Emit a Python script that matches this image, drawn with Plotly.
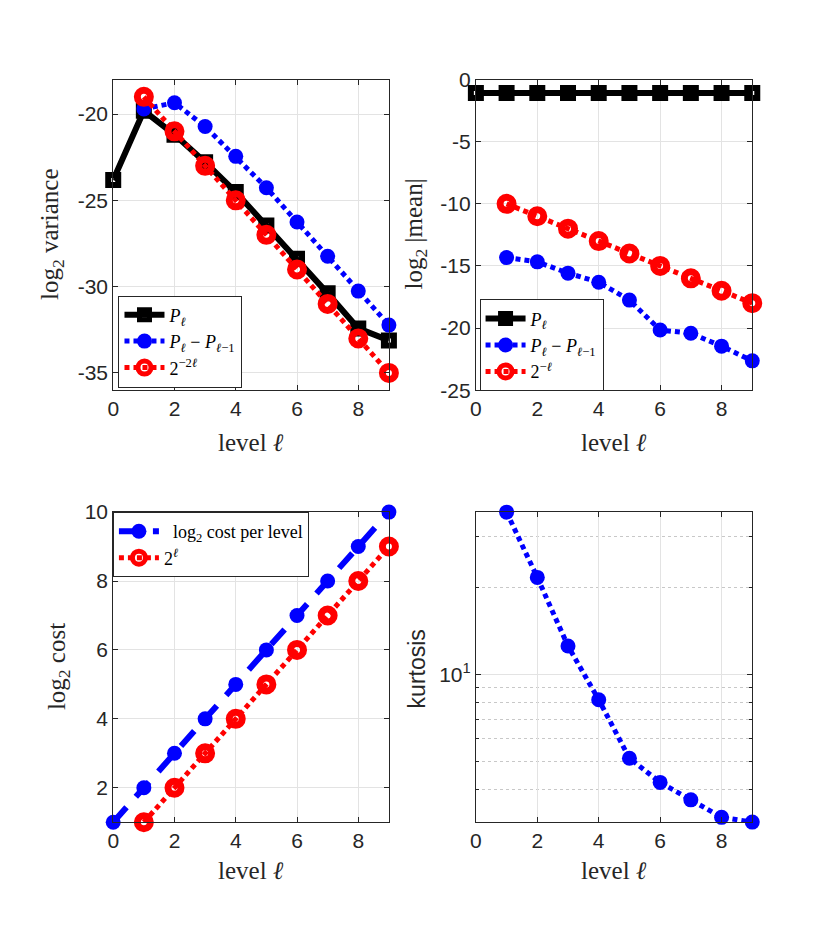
import plotly.graph_objects as go

# ---------------- data ----------------
levels = [0, 1, 2, 3, 4, 5, 6, 7, 8, 9]
levels1 = [1, 2, 3, 4, 5, 6, 7, 8, 9]

var_P = [-23.82, -19.81, -21.19, -22.79, -24.52, -26.46, -28.38, -30.39, -32.42, -33.12]
var_dP = [-19.70, -19.34, -20.72, -22.45, -24.27, -26.25, -28.24, -30.26, -32.23]
var_ref = [-19, -21, -23, -25, -27, -29, -31, -33, -35]

mean_P = [-1.07, -1.07, -1.07, -1.07, -1.07, -1.07, -1.07, -1.07, -1.07, -1.07]
mean_dP = [-14.33, -14.67, -15.58, -16.31, -17.75, -20.16, -20.42, -21.46, -22.64]
mean_ref = [-10, -11, -12, -13, -14, -15, -16, -17, -18]

cost = [1, 2, 3, 4, 5, 6, 7, 8, 9, 10]
cost_ref = [1, 2, 3, 4, 5, 6, 7, 8, 9]

kurt = [36.5, 21.7, 12.56, 8.19, 5.14, 4.24, 3.69, 3.21, 3.09]

x_ticks = [0, 2, 4, 6, 8]
var_ticks = [-35, -30, -25, -20]
mean_ticks = [-25, -20, -15, -10, -5, 0]
cost_ticks = [2, 4, 6, 8, 10]
kurt_minor = [4, 5, 6, 7, 8, 9, 20, 30]

# ---------------- style ----------------
W, H = 830, 934
AX = '#262626'
GRID = '#e3e3e3'
SANS = 'Liberation Sans, Arial, sans-serif'
SERIF = 'Liberation Serif, Times New Roman, serif'
BLACK, BLUE, RED = '#000000', '#0000ff', '#ff0000'
TICKSIZE = 21

def px_x(p):
    return p / W

def px_y(p):
    return 1 - p / H

dom_xL = [px_x(108), px_x(385.7)]
dom_xR = [px_x(473.3), px_x(751.7)]
dom_yT = [px_y(387.7), px_y(69.3)]
dom_yB = [px_y(830.7), px_y(512.7)]

fig = go.Figure()

def sq_black(x, y, name, xa, ya, leg, show=True):
    return go.Scatter(x=x, y=y, name=name, mode='lines+markers', xaxis=xa, yaxis=ya,
                      legend=leg, showlegend=show, cliponaxis=False,
                      line=dict(color=BLACK, width=6),
                      marker=dict(symbol='square-open', size=10, color=BLACK,
                                  line=dict(color=BLACK, width=6)))

def blue_dots(x, y, name, xa, ya, leg, show=True):
    return go.Scatter(x=x, y=y, name=name, mode='lines+markers', xaxis=xa, yaxis=ya,
                      legend=leg, showlegend=show, cliponaxis=False,
                      line=dict(color=BLUE, width=5, dash='5px,4px'),
                      marker=dict(symbol='circle', size=15, color=BLUE,
                                  line=dict(color=BLUE, width=0)))

def red_rings(x, y, name, xa, ya, leg, show=True):
    return go.Scatter(x=x, y=y, name=name, mode='lines+markers', xaxis=xa, yaxis=ya,
                      legend=leg, showlegend=show, cliponaxis=False,
                      line=dict(color=RED, width=5, dash='5px,4px'),
                      marker=dict(symbol='circle-open', size=13, color=RED,
                                  line=dict(color=RED, width=7)))

SP = '\u2005'
P_name = '<i>P</i><sub><i>ℓ</i></sub>'
dP_name = '<i>P</i><sub><i>ℓ</i></sub>' + SP + '−' + SP + '<i>P</i><sub><i>ℓ</i>−1</sub>'

# top-left
fig.add_trace(sq_black(levels, var_P, P_name, 'x', 'y', 'legend'))
fig.add_trace(blue_dots(levels1, var_dP, dP_name, 'x', 'y', 'legend'))
fig.add_trace(red_rings(levels1, var_ref, '2<sup>−2<i>ℓ</i></sup>', 'x', 'y', 'legend'))

# top-right
fig.add_trace(sq_black(levels, mean_P, P_name, 'x2', 'y2', 'legend2'))
fig.add_trace(blue_dots(levels1, mean_dP, dP_name, 'x2', 'y2', 'legend2'))
fig.add_trace(red_rings(levels1, mean_ref, '2<sup>−<i>ℓ</i></sup>', 'x2', 'y2', 'legend2'))

# bottom-left
fig.add_trace(go.Scatter(x=levels, y=cost, name='  log<sub>2</sub> cost per level',
                         mode='lines+markers', xaxis='x3', yaxis='y3', legend='legend3',
                         cliponaxis=False,
                         line=dict(color=BLUE, width=6, dash='20px,14px'),
                         marker=dict(symbol='circle', size=15, color=BLUE)))
fig.add_trace(red_rings(levels1, cost_ref, '2<sup><i>ℓ</i></sup>', 'x3', 'y3', 'legend3'))

# bottom-right
fig.add_trace(blue_dots(levels1, kurt, 'kurtosis', 'x4', 'y4', 'legend', show=False))

def xaxis_cfg(domain, anchor):
    return dict(domain=domain, anchor=anchor, range=[0, 9], tickvals=x_ticks,
                ticktext=[str(v) for v in x_ticks],
                showline=True, linecolor=AX, linewidth=1, mirror='ticks',
                ticks='inside', ticklen=5, tickcolor=AX, tickwidth=1,
                showgrid=True, gridcolor=GRID, gridwidth=1, zeroline=False,
                tickfont=dict(family=SANS, size=TICKSIZE, color=AX))

def yaxis_cfg(domain, anchor, rng, tv, **kw):
    d = dict(domain=domain, anchor=anchor, range=rng, tickvals=tv,
             ticktext=[str(v) for v in tv],
             showline=True, linecolor=AX, linewidth=1, mirror='ticks',
             ticks='inside', ticklen=5, tickcolor=AX, tickwidth=1,
             showgrid=True, gridcolor=GRID, gridwidth=1, zeroline=False,
             tickfont=dict(family=SANS, size=TICKSIZE, color=AX))
    d.update(kw)
    return d

fig.update_layout(
    width=W, height=H, autosize=False,
    margin=dict(l=0, r=0, t=0, b=0),
    paper_bgcolor='white', plot_bgcolor='white',
    xaxis=xaxis_cfg(dom_xL, 'y'),
    yaxis=yaxis_cfg(dom_yT, 'x', [-36, -18], var_ticks),
    xaxis2=xaxis_cfg(dom_xR, 'y2'),
    yaxis2=yaxis_cfg(dom_yT, 'x2', [-25, 0], mean_ticks),
    xaxis3=xaxis_cfg(dom_xL, 'y3'),
    yaxis3=yaxis_cfg(dom_yB, 'x3', [1, 10], cost_ticks),
    xaxis4=xaxis_cfg(dom_xR, 'y4'),
    yaxis4=dict(domain=dom_yB, anchor='x4', type='log',
                range=[0.4895, 1.5625], tickvals=[10], ticktext=['10<sup>1</sup>'],
                showline=True, linecolor=AX, linewidth=1, mirror='ticks',
                ticks='inside', ticklen=5, tickcolor=AX, tickwidth=1,
                showgrid=True, gridcolor=GRID, gridwidth=1, zeroline=False,
                tickfont=dict(family=SANS, size=TICKSIZE, color=AX),
                minor=dict(tickvals=kurt_minor, showgrid=True, gridcolor='#c8c8c8',
                           griddash='dot', gridwidth=1, ticks='inside', ticklen=3,
                           tickcolor=AX)),
    showlegend=True,
)

leg_common = dict(bgcolor='white', bordercolor=AX, borderwidth=1,
                  font=dict(family=SERIF, size=18, color='black'),
                  xanchor='left', tracegroupgap=0,
                  itemwidth=40, itemsizing='trace')
fig.update_layout(
    legend=dict(x=px_x(113.3), y=px_y(385), yanchor='bottom', **leg_common),
    legend2=dict(x=px_x(477), y=px_y(389), yanchor='bottom', **leg_common),
    legend3=dict(x=px_x(107.7), y=px_y(512.7), yanchor='top', **leg_common),
)

def ann(text, x, y, angle=0, family=SERIF, size=25):
    fig.add_annotation(text=text, x=px_x(x), y=px_y(y), xref='paper', yref='paper',
                       showarrow=False, textangle=angle, xanchor='center', yanchor='middle',
                       font=dict(family=family, size=size, color=AX))

lvl = 'level <i>ℓ</i>'
ann(lvl, 247, 441)
ann(lvl, 612, 441)
ann(lvl, 247, 880)
ann(lvl, 612, 880)
ann('log<sub>2</sub> variance', 46, 228, angle=-90)
ann('log<sub>2</sub> |mean|', 412, 228, angle=-90)
ann('log<sub>2</sub> cost', 53, 671, angle=-90)
ann('kurtosis', 414, 674, angle=-90, family=SANS, size=23)

fig.write_html('out.html', config={'displayModeBar': False},
               post_script="document.body.style.margin='0px';document.body.style.overflow='hidden';")
